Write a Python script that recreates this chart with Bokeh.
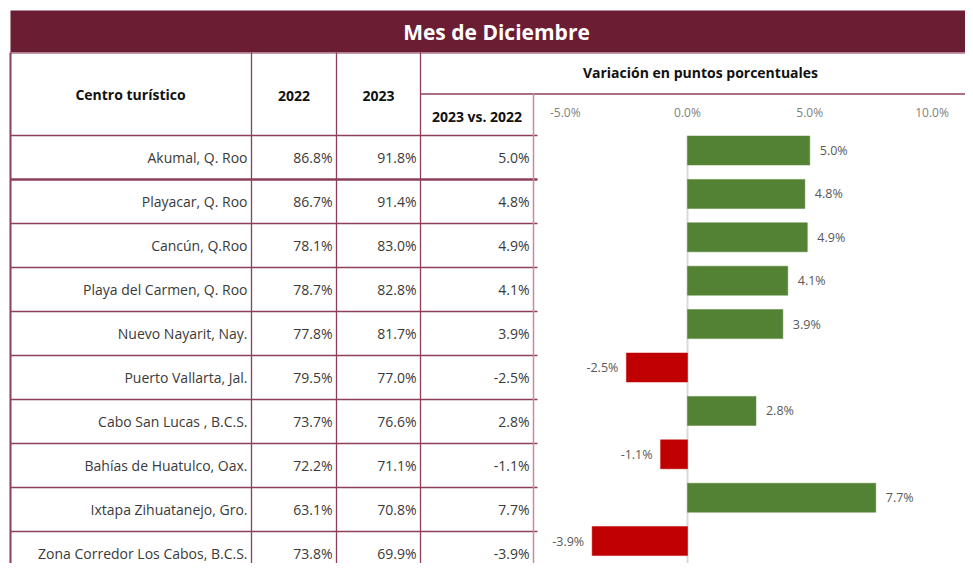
from bokeh.plotting import figure
from bokeh.models import Range1d, ColumnDataSource
from bokeh.core.properties import value
from bokeh.embed import file_html
from bokeh.resources import INLINE

# ---- data ----
centros = ["Akumal, Q. Roo", "Playacar, Q. Roo", "Cancún, Q.Roo", "Playa del Carmen, Q. Roo",
           "Nuevo Nayarit, Nay.", "Puerto Vallarta, Jal.", "Cabo San Lucas , B.C.S.",
           "Bahías de Huatulco, Oax.", "Ixtapa Zihuatanejo, Gro.", "Zona Corredor Los Cabos, B.C.S."]
v2022 = [86.8, 86.7, 78.1, 78.7, 77.8, 79.5, 73.7, 72.2, 63.1, 73.8]
v2023 = [91.8, 91.4, 83.0, 82.8, 81.7, 77.0, 76.6, 71.1, 70.8, 69.9]
variacion = [5.0, 4.8, 4.9, 4.1, 3.9, -2.5, 2.8, -1.1, 7.7, -3.9]
pct_ticks = [-5.0, 0.0, 5.0, 10.0]
title = "Mes de Diciembre"
col_headers = ["Centro turístico", "2022", "2023"]
var_header = "Variación en puntos porcentuales"
sub_header = "2023 vs. 2022"

# ---- layout constants (pixels) ----
W, H = 965, 563
X0, X1 = 0, 965          # data x units == picture pixels
Y0, Y1 = 0, 563
col_x = [10, 251, 336, 420, 533]
row_top, row_h = 135, 44
bar_top, bar_pitch, bar_h = 150, 43.4, 29
zero_px, px_per_pct = 687, 24.45

FONT = value("Open Sans")
MAROON = "#6b1d33"
LINE = "#8e3f58"
TXT = "#3a3a3a"
GRAY = "#7f7f7f"

p = figure(width=W, height=H, output_backend="svg", toolbar_location=None,
           x_range=Range1d(X0, X1), y_range=Range1d(Y1, Y0),
           min_border=0, outline_line_color=None,
           background_fill_color="white", border_fill_color="white")
p.axis.visible = False
p.grid.visible = False
p.extra_x_ranges = {"pct": Range1d((X0 - zero_px) / px_per_pct, (X1 - zero_px) / px_per_pct)}

n = len(centros)
row_c = [row_top + row_h * (i + 0.5) for i in range(n)]
bar_c = [bar_top + bar_pitch * i for i in range(n)]

# header band
p.quad(left=[10], right=[X1], top=[10], bottom=[52], fill_color=MAROON, line_color=None)
p.text(x=[496], y=[31], text=[title], text_font=FONT, text_font_style="bold",
       text_font_size="21px", text_color="white", text_align="center", text_baseline="middle")

# grid lines
p.segment(x0=[10], y0=[52.5], x1=[X1], y1=[52.5], line_color="#b07a8a", line_width=1.5)
p.segment(x0=[420], y0=[93.5], x1=[X1], y1=[93.5], line_color=LINE, line_width=1.5)
p.segment(x0=[10], y0=[135], x1=[537], y1=[135], line_color=LINE, line_width=1.5)
bounds = [row_top + row_h * (i + 1) for i in range(n - 1)]
widths = [2.5 if i == 0 else 1.3 for i in range(n - 1)]
p.segment(x0=[10] * len(bounds), y0=bounds, x1=[537] * len(bounds), y1=bounds,
          line_color=LINE, line_width=widths)
p.segment(x0=[10, 251, 336, 420], y0=[52, 52, 52, 52], x1=[10, 251, 336, 420], y1=[Y1] * 4,
          line_color=LINE, line_width=[2, 1.3, 1.3, 1.3])
p.segment(x0=[533], y0=[93], x1=[533], y1=[Y1], line_color="#c48d9d", line_width=1.5)

# header texts
p.text(x=[130, 293.5, 378], y=[94, 95, 95], text=col_headers, text_font=FONT,
       text_font_style="bold", text_font_size="14px", text_color="#111111",
       text_align="center", text_baseline="middle")
p.text(x=[700], y=[72], text=[var_header], text_font=FONT, text_font_style="bold",
       text_font_size="14px", text_color="#111111", text_align="center", text_baseline="middle")
p.text(x=[476.5], y=[116], text=[sub_header], text_font=FONT, text_font_style="bold",
       text_font_size="14px", text_color="#111111", text_align="center", text_baseline="middle")

# table body
def fmt(v):
    return f"{v:.1f}%"

p.text(x=[247] * n, y=row_c, text=centros, text_font=FONT, text_font_size="14px",
       text_color=TXT, text_align="right", text_baseline="middle")
p.text(x=[332] * n, y=row_c, text=[fmt(v) for v in v2022], text_font=FONT, text_font_size="14px",
       text_color=TXT, text_align="right", text_baseline="middle")
p.text(x=[416] * n, y=row_c, text=[fmt(v) for v in v2023], text_font=FONT, text_font_size="14px",
       text_color=TXT, text_align="right", text_baseline="middle")
p.text(x=[529] * n, y=row_c, text=[fmt(v) for v in variacion], text_font=FONT, text_font_size="14px",
       text_color=TXT, text_align="right", text_baseline="middle")

# bar chart axis labels
p.text(x=pct_ticks, y=[112] * len(pct_ticks), text=[fmt(t) for t in pct_ticks], x_range_name="pct",
       text_font=FONT, text_font_size="12px", text_color=GRAY, text_align="center",
       text_baseline="middle")
# zero line
p.segment(x0=[0], y0=[135], x1=[0], y1=[Y1], x_range_name="pct", line_color="#dadada", line_width=2)

# bars
src = ColumnDataSource(dict(
    y=bar_c, v=variacion, zero=[0] * n,
    color=["#548235" if v >= 0 else "#c00000" for v in variacion],
    label=[fmt(v) for v in variacion],
    align=["left" if v >= 0 else "right" for v in variacion],
    off=[10 if v >= 0 else -8 for v in variacion],
))
p.hbar(y="y", left="zero", right="v", height=bar_h, source=src, x_range_name="pct",
       fill_color="color", line_color="color", line_width=0.5)
p.text(x="v", y="y", text="label", source=src, x_range_name="pct", x_offset="off",
       text_align="align", text_baseline="middle", text_font=FONT, text_font_size="12.5px",
       text_color="#595959")

open("out.html", "w").write(file_html(p, INLINE))
